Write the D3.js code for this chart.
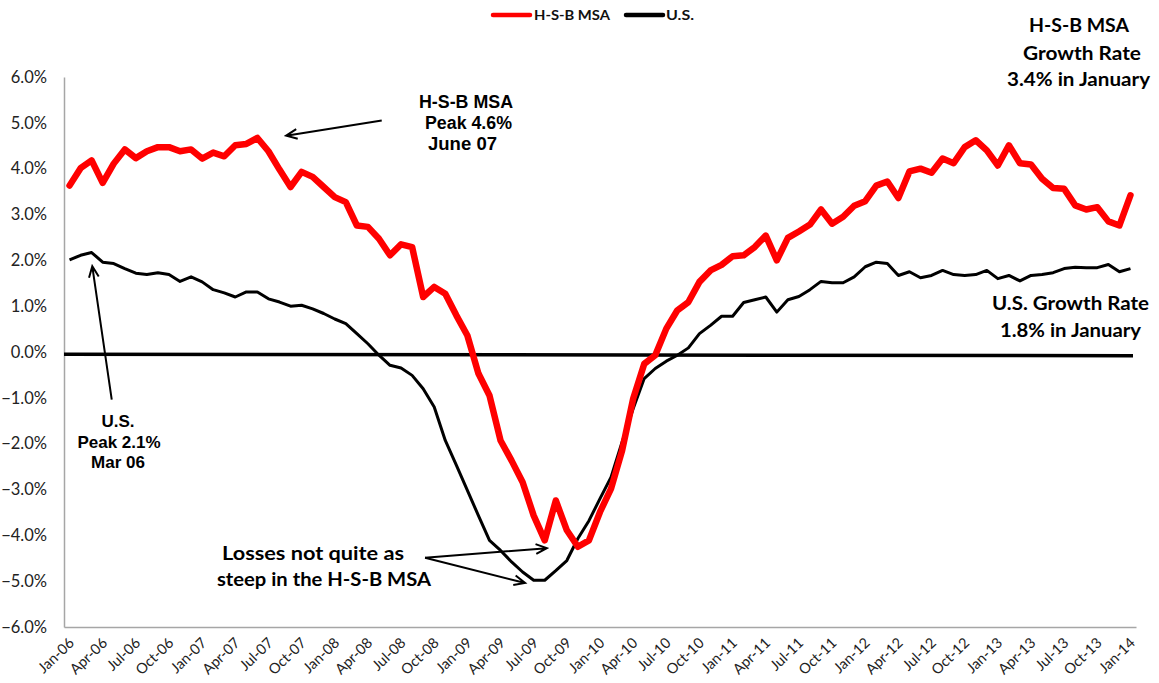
<!DOCTYPE html>
<html>
<head>
<meta charset="utf-8">
<script src="https://cdn.jsdelivr.net/npm/d3@7"></script>
<style>
  html, body { margin: 0; padding: 0; background: #fff; }
  svg { display: block; }
</style>
</head>
<body>
<svg id="chart" width="1159" height="683"></svg>
<script>
// ---------- DATA ----------
const seriesNames = ["H-S-B MSA", "U.S."];
const seriesColors = ["#ff0000", "#000000"];

// Monthly categories Jan-06 .. Jan-14 (97 months)
const startMonth = new Date(2006, 0, 1);
const endMonth = new Date(2014, 1, 1);
const categories = d3.timeMonths(startMonth, endMonth).map(d3.timeFormat("%b-%y"));

// Employment growth rate (%, year over year)
const hsbValues = [
  3.63, 4.01, 4.18, 3.69, 4.11, 4.42, 4.23, 4.38, 4.47, 4.47,
  4.38, 4.42, 4.22, 4.35, 4.27, 4.51, 4.54, 4.67, 4.38, 3.98,
  3.60, 3.93, 3.82, 3.60, 3.38, 3.27, 2.76, 2.73, 2.47, 2.11,
  2.35, 2.29, 1.20, 1.42, 1.27, 0.80, 0.36, -0.47, -0.95, -1.93,
  -2.37, -2.84, -3.57, -4.11, -3.24, -3.89, -4.25, -4.11, -3.49, -2.98,
  -2.15, -1.02, -0.26, -0.07, 0.51, 0.91, 1.09, 1.53, 1.78, 1.90,
  2.09, 2.11, 2.29, 2.54, 2.00, 2.49, 2.63, 2.78, 3.11, 2.80,
  2.95, 3.19, 3.29, 3.63, 3.72, 3.36, 3.94, 4.00, 3.91, 4.22,
  4.12, 4.47, 4.62, 4.40, 4.07, 4.51, 4.12, 4.09, 3.78, 3.58,
  3.56, 3.20, 3.11, 3.16, 2.85, 2.76, 3.42
];
const usValues = [
  2.01, 2.11, 2.17, 1.96, 1.93, 1.82, 1.72, 1.69, 1.73, 1.69,
  1.54, 1.64, 1.53, 1.36, 1.29, 1.20, 1.31, 1.31, 1.16, 1.09,
  1.00, 1.02, 0.94, 0.84, 0.72, 0.62, 0.40, 0.18, -0.07, -0.29,
  -0.35, -0.51, -0.80, -1.20, -1.93, -2.47, -3.02, -3.57, -4.11, -4.33,
  -4.58, -4.80, -4.98, -4.98, -4.77, -4.55, -4.07, -3.68, -3.20, -2.73,
  -1.96, -1.24, -0.58, -0.36, -0.20, -0.07, 0.09, 0.40, 0.58, 0.78,
  0.78, 1.08, 1.14, 1.20, 0.87, 1.14, 1.21, 1.36, 1.54, 1.51,
  1.51, 1.64, 1.86, 1.96, 1.93, 1.67, 1.75, 1.62, 1.67, 1.78,
  1.69, 1.67, 1.69, 1.78, 1.60, 1.67, 1.55, 1.67, 1.69, 1.73,
  1.82, 1.85, 1.84, 1.84, 1.91, 1.75, 1.82
];

const yTicks = [-6, -5, -4, -3, -2, -1, 0, 1, 2, 3, 4, 5, 6];
const xTickLabels = [
  "Jan-06","Apr-06","Jul-06","Oct-06","Jan-07","Apr-07","Jul-07","Oct-07",
  "Jan-08","Apr-08","Jul-08","Oct-08","Jan-09","Apr-09","Jul-09","Oct-09",
  "Jan-10","Apr-10","Jul-10","Oct-10","Jan-11","Apr-11","Jul-11","Oct-11",
  "Jan-12","Apr-12","Jul-12","Oct-12","Jan-13","Apr-13","Jul-13","Oct-13","Jan-14"
];

// Reference line near zero (drawn in the original), value at start / end
const zeroLineValues = [-0.05, -0.08];

// ---------- LAYOUT ----------
const svg = d3.select("#chart");
const margin = { left: 64, right: 1159 - 1136, top: 77, bottom: 683 - 627 };
const W = 1159, H = 683;

const x = d3.scalePoint()
  .domain(categories)
  .range([margin.left, W - margin.right])
  .padding(0.5);
const xi = i => x(categories[0]) + i * x.step();

const y = d3.scaleLinear().domain([-6, 6]).range([H - margin.bottom, margin.top]);

const bodyFont = "Lato, 'Open Sans', sans-serif";
const arialFont = "'Liberation Sans', Arial, sans-serif";

// Y axis
const yAxis = d3.axisLeft(y).tickValues(yTicks).tickSize(0).tickPadding(17)
  .tickFormat(d => d3.format(".1f")(d) + "%");
const gy = svg.append("g").attr("transform", `translate(${margin.left},0)`).call(yAxis);
gy.select(".domain").attr("stroke", "#a6a6a6").attr("stroke-width", 1.5);
gy.selectAll("text").attr("font-family", bodyFont).attr("font-size", 16.5).attr("fill", "#222");

// X axis
const xAxis = d3.axisBottom(x).tickValues(xTickLabels).tickSize(0).tickPadding(0);
const gx = svg.append("g").attr("transform", `translate(0,${H - margin.bottom})`).call(xAxis);
gx.select(".domain").attr("stroke", "#a6a6a6").attr("stroke-width", 1.5);
gx.selectAll("text")
  .attr("font-family", bodyFont).attr("font-size", 14.5).attr("fill", "#222")
  .attr("text-anchor", "end")
  .attr("dy", 0)
  .attr("transform", "translate(5,17) rotate(-44)");

// Zero reference line
svg.append("line")
  .attr("x1", margin.left).attr("x2", W - margin.right - 3)
  .attr("y1", y(zeroLineValues[0])).attr("y2", y(zeroLineValues[1]))
  .attr("stroke", "#000").attr("stroke-width", 3.5);

// Series lines
const line = d3.line().x((d, i) => xi(i)).y(d => y(d));
svg.append("path").datum(usValues)
  .attr("d", line).attr("fill", "none")
  .attr("stroke", seriesColors[1]).attr("stroke-width", 3)
  .attr("stroke-linejoin", "round");
svg.append("path").datum(hsbValues)
  .attr("d", line).attr("fill", "none")
  .attr("stroke", seriesColors[0]).attr("stroke-width", 6.5)
  .attr("stroke-linejoin", "round").attr("stroke-linecap", "round");

// Legend
const legend = svg.append("g").attr("font-family", bodyFont).attr("font-weight", "bold").attr("font-size", 14);
[[493, 530, 534, 76], [626, 663, 666, 28]].forEach((p, k) => {
  legend.append("line").attr("x1", p[0]).attr("x2", p[1]).attr("y1", 15).attr("y2", 15)
    .attr("stroke", seriesColors[k]).attr("stroke-width", 4.5).attr("stroke-linecap", "round");
  legend.append("text").attr("x", p[2]).attr("y", 20).text(seriesNames[k]).attr("fill", "#111")
    .attr("textLength", p[3]).attr("lengthAdjust", "spacingAndGlyphs");
});

// Arrows (in data coordinates: category index, value)
function arrow(from, to) {
  const x1 = xi(from[0]), y1 = y(from[1]), x2 = xi(to[0]), y2 = y(to[1]);
  const ang = Math.atan2(y2 - y1, x2 - x1);
  const L = 12, a = 0.42;
  const p1 = [x2 - L * Math.cos(ang - a), y2 - L * Math.sin(ang - a)];
  const p2 = [x2 - L * Math.cos(ang + a), y2 - L * Math.sin(ang + a)];
  svg.append("path")
    .attr("d", `M${x1},${y1}L${x2},${y2}M${p1[0]},${p1[1]}L${x2},${y2}L${p2[0]},${p2[1]}`)
    .attr("fill", "none").attr("stroke", "#000").attr("stroke-width", 2);
}
arrow([28.25, 5.05], [19.6, 4.72]);
arrow([3.82, -1.04], [2.06, 1.87]);
arrow([32.17, -4.49], [43.19, -4.28]);
arrow([32.17, -4.49], [41.22, -5.04]);

// Annotation texts: [text, x, y, width]
function label(lines, font, size, anchor) {
  const g = svg.append("g").attr("font-family", font).attr("font-weight", "bold")
    .attr("font-size", size).attr("fill", "#000").attr("text-anchor", anchor);
  lines.forEach(l => {
    const t = g.append("text").attr("x", l[1]).attr("y", l[2]).text(l[0]);
    if (l[3]) t.attr("textLength", l[3]).attr("lengthAdjust", "spacingAndGlyphs");
  });
}
label([["H-S-B MSA", 419, 108, 94], ["Peak 4.6%", 425, 129, 87], ["June  07", 428, 150, 69]], arialFont, 17.5, "start");
label([["U.S.", 118, 427], ["Peak 2.1%", 119, 448], ["Mar  06", 118, 468]], arialFont, 17, "middle");
label([["Losses not quite as", 222, 560, 182], ["steep in the H-S-B MSA", 217, 586, 214]], bodyFont, 19.5, "start");
label([["H-S-B MSA", 1079, 32, 100], ["Growth Rate", 1082, 60, 118], ["3.4% in January", 1078.5, 86, 143]], bodyFont, 19.5, "middle");
label([["U.S. Growth Rate", 1070.5, 310, 157], ["1.8% in January", 1070.5, 337, 141]], bodyFont, 19.5, "middle");
</script>
</body>
</html>
